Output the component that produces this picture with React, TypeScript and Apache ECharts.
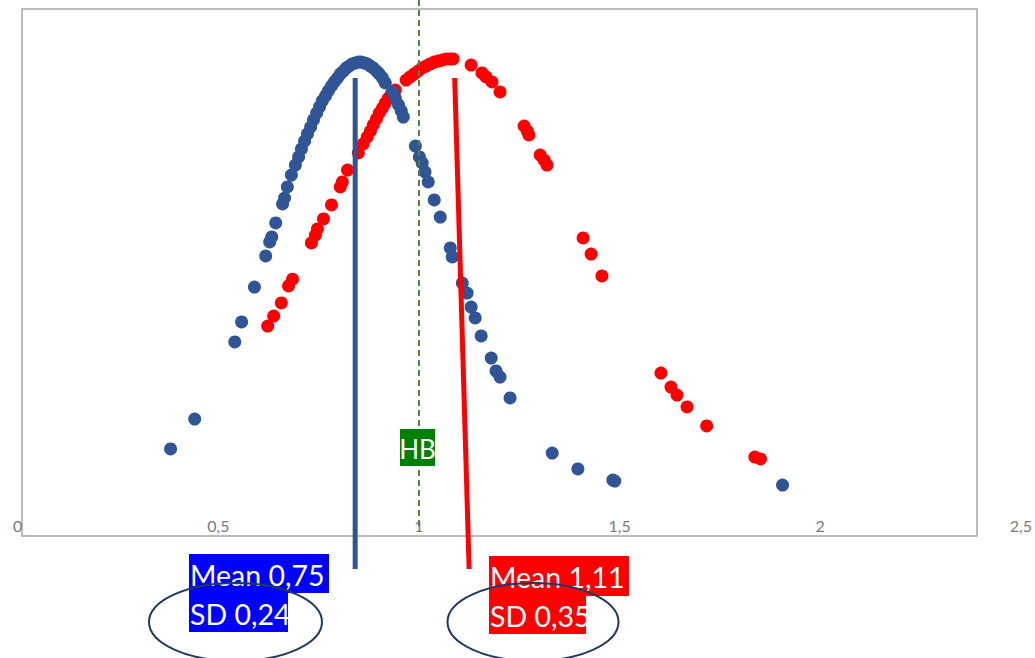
import React, { useEffect, useRef } from "react";
import * as echarts from "echarts";

// x-axis tick labels (decimal comma)
const xTicks = [0, 0.5, 1, 1.5, 2, 2.5];

// Blue distribution (Mean 0,75 / SD 0,24): [x, y]
const blueX = [
  0.381, 0.441, 0.541, 0.558, 0.59, 0.618, 0.628, 0.633, 0.643, 0.66, 0.665, 0.672, 0.682,
  0.692, 0.7, 0.707, 0.715, 0.722, 0.73, 0.737, 0.745, 0.752, 0.759, 0.767, 0.774, 0.782,
  0.789, 0.797, 0.804, 0.812, 0.819, 0.826, 0.834, 0.841, 0.849, 0.856, 0.864, 0.871, 0.879,
  0.886, 0.894, 0.901, 0.909, 0.916, 0.934, 0.941, 0.949, 0.956, 0.961,
  0.991, 1.001, 1.008, 1.015, 1.023, 1.038, 1.053, 1.078, 1.083, 1.108, 1.12, 1.13, 1.14,
  1.155, 1.18, 1.192, 1.202, 1.227, 1.332, 1.396, 1.483, 1.488, 1.906,
];
const blueY = [
  0.33, 0.443, 0.735, 0.811, 0.943, 1.061, 1.114, 1.133, 1.186, 1.258, 1.28, 1.322, 1.367,
  1.405, 1.436, 1.466, 1.496, 1.523, 1.549, 1.576, 1.602, 1.625, 1.648, 1.667, 1.686, 1.705,
  1.72, 1.735, 1.75, 1.761, 1.773, 1.78, 1.788, 1.792, 1.795, 1.795, 1.792, 1.788, 1.78,
  1.773, 1.761, 1.75, 1.735, 1.716, 1.682, 1.659, 1.633, 1.61, 1.587,
  1.477, 1.436, 1.413, 1.379, 1.341, 1.273, 1.208, 1.091, 1.057, 0.958, 0.92, 0.867, 0.826,
  0.758, 0.674, 0.625, 0.602, 0.523, 0.314, 0.254, 0.212, 0.208, 0.193,
];

// Red distribution (Mean 1,11 / SD 0,35): [x, y]
const redX = [
  0.623, 0.638, 0.657, 0.675, 0.685, 0.732, 0.742, 0.747, 0.762, 0.782, 0.804, 0.809, 0.822,
  0.849, 0.861, 0.871, 0.879, 0.886, 0.894, 0.901, 0.909, 0.916, 0.924, 0.931, 0.941,
  0.968, 0.978, 0.988, 0.998, 1.008, 1.018, 1.028, 1.038, 1.048, 1.058, 1.068, 1.078, 1.085,
  1.13, 1.157, 1.167, 1.182, 1.202, 1.262, 1.27, 1.274, 1.302, 1.312, 1.319,
  1.409, 1.429, 1.456, 1.603, 1.628, 1.643, 1.668, 1.717, 1.837, 1.851,
];
const redY = [
  0.795, 0.833, 0.883, 0.947, 0.973, 1.11, 1.14, 1.163, 1.201, 1.254, 1.322, 1.341, 1.386,
  1.451, 1.485, 1.511, 1.534, 1.557, 1.58, 1.602, 1.621, 1.64, 1.659, 1.674, 1.689,
  1.727, 1.739, 1.75, 1.761, 1.773, 1.78, 1.788, 1.795, 1.799, 1.803, 1.807, 1.807, 1.807,
  1.784, 1.754, 1.739, 1.72, 1.682, 1.553, 1.534, 1.519, 1.443, 1.424, 1.405,
  1.129, 1.068, 0.985, 0.617, 0.564, 0.534, 0.489, 0.417, 0.299, 0.292,
];

// Reference lines: [x, y] endpoints
const blueMeanLine = [[0.841, 1.735], [0.841, -0.125]];
const redMeanLine = [[1.089, 1.735], [1.125, -0.125]];
const hbLine = [[1, 2.03], [1, 0.02]];

const blueLabels = ["Mean 0,75", "SD 0,24"];
const redLabels = ["Mean 1,11", "SD 0,35"];
const hbLabel = "HB";

const BLUE = "#2f5597";
const RED = "#ff0000";
const FONT = "Lato, 'Open Sans', sans-serif";

export default function App() {
  const ref = useRef<HTMLDivElement>(null);
  useEffect(() => {
    document.body.style.margin = "0";
    if (!ref.current) return;
    const chart = echarts.init(ref.current, undefined, { renderer: "svg" });
    const blue = blueX.map((x, i) => [x, blueY[i]]);
    const red = redX.map((x, i) => [x, redY[i]]);

    const boxText = (x: number, y: number, w: number, h: number, fill: string, text: string, size: number, center = false) => [
      { type: "rect", z: 20, shape: { x, y, width: w, height: h }, style: { fill } },
      {
        type: "text",
        z: 21,
        x: center ? x + w / 2 : x + 1,
        y: y + h / 2 + 1,
        style: {
          text,
          fill: "#ffffff",
          font: `${size}px ${FONT}`,
          align: center ? "center" : "left",
          verticalAlign: "middle",
        },
      },
    ];

    chart.setOption({
      animation: false,
      backgroundColor: "#ffffff",
      grid: { left: 17.7, right: 13, top: 8, bottom: 122, containLabel: false },
      xAxis: {
        type: "value",
        min: 0,
        max: 2.5,
        interval: 0.5,
        axisLine: { show: false },
        axisTick: { show: false },
        splitLine: { show: false },
        axisLabel: {
          inside: true,
          margin: 3,
          showMinLabel: true,
          showMaxLabel: true,
          color: "#7a7a7a",
          fontSize: 16,
          fontFamily: FONT,
          formatter: (v: number) => (xTicks.includes(v) ? String(v).replace(".", ",") : ""),
        },
      },
      yAxis: { type: "value", min: 0, max: 2, show: false },
      series: [
        {
          type: "scatter",
          data: red,
          symbolSize: 13,
          itemStyle: { color: RED, opacity: 1 },
          z: 2,
        },
        {
          type: "scatter",
          data: blue,
          symbolSize: 13,
          itemStyle: { color: BLUE, opacity: 1 },
          z: 3,
        },
        {
          type: "line",
          data: hbLine,
          clip: false,
          symbol: "none",
          lineStyle: { color: "#548235", width: 2, type: [6, 4] },
          z: 4,
        },
        {
          type: "line",
          data: blueMeanLine,
          clip: false,
          symbol: "none",
          lineStyle: { color: BLUE, width: 5 },
          z: 5,
        },
        {
          type: "line",
          data: redMeanLine,
          clip: false,
          symbol: "none",
          lineStyle: { color: RED, width: 5 },
          z: 5,
        },
      ],
      graphic: [
        {
          type: "rect",
          z: 0,
          shape: { x: 22, y: 9, width: 955, height: 527 },
          style: { fill: "none", stroke: "#a6a6a6", lineWidth: 1.5 },
        },
        ...boxText(400, 429, 35, 37, "#008000", hbLabel, 26, true),
        ...boxText(189, 554, 140, 39, "#0000ff", blueLabels[0], 28.5),
        ...boxText(189, 593, 99, 39, "#0000ff", blueLabels[1], 28.5),
        ...boxText(489, 556, 140, 40, "#ff0000", redLabels[0], 28.5),
        ...boxText(489, 596, 97, 38, "#ff0000", redLabels[1], 28.5),
        {
          type: "ellipse",
          z: 30,
          shape: { cx: 235.5, cy: 622, rx: 86.5, ry: 39 },
          style: { fill: "none", stroke: "#1f3864", lineWidth: 2 },
        },
        {
          type: "ellipse",
          z: 30,
          shape: { cx: 533, cy: 622, rx: 85.5, ry: 39 },
          style: { fill: "none", stroke: "#1f3864", lineWidth: 2 },
        },
      ],
    });
    return () => chart.dispose();
  }, []);
  return <div ref={ref} style={{ width: 1035, height: 658 }} />;
}
